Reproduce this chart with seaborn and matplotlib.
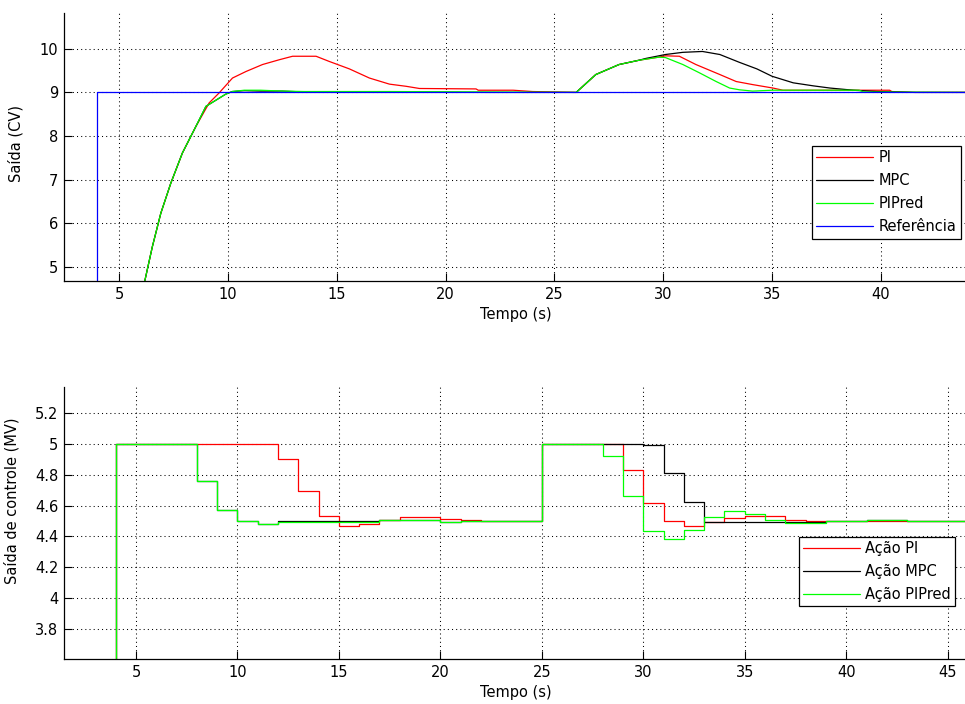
import matplotlib
matplotlib.use("Agg")
import matplotlib.pyplot as plt
import seaborn as sns

# Saída (CV) - curves
t_pi = [6.10, 6.19, 6.53, 6.92, 7.38, 7.91, 8.53, 9.14, 9.60, 10.21, 10.83, 11.59, 12.36,
        12.97, 14.05, 14.66, 15.58, 16.50, 17.42, 18.19, 18.80, 21.40, 21.50, 23.10, 24.00,
        26.00, 26.90, 27.97, 28.90, 29.80, 30.10, 30.74, 31.50, 32.60, 33.35, 34.10, 35.04,
        35.50, 40.40, 40.50, 41.50, 44.00]
y_pi = [4.45, 4.69, 5.46, 6.23, 6.92, 7.61, 8.22, 8.76, 8.99, 9.33, 9.48, 9.64, 9.75,
        9.83, 9.83, 9.71, 9.54, 9.33, 9.19, 9.14, 9.09, 9.08, 9.05, 9.05, 9.02,
        9.00, 9.41, 9.64, 9.74, 9.81, 9.84, 9.83, 9.64, 9.41, 9.25, 9.18, 9.10,
        9.05, 9.05, 9.02, 9.00, 9.00]

t_mpc = [6.10, 6.19, 6.53, 6.92, 7.38, 7.91, 8.53, 8.99, 9.90, 10.20, 10.75, 11.50, 12.50,
         13.50, 17.40, 22.00, 26.00, 26.90, 27.97, 28.90, 29.20, 30.10, 30.90, 31.80, 32.60,
         33.50, 34.30, 35.00, 35.97, 36.90, 37.66, 38.74, 39.80, 41.60, 44.00]
y_mpc = [4.45, 4.69, 5.46, 6.23, 6.92, 7.61, 8.22, 8.68, 8.96, 9.02, 9.04, 9.03, 9.03,
         9.01, 9.01, 9.00, 9.00, 9.41, 9.64, 9.74, 9.78, 9.87, 9.92, 9.94, 9.87,
         9.69, 9.54, 9.37, 9.22, 9.15, 9.10, 9.05, 9.02, 9.00, 9.00]

t_pipred = [6.10, 6.19, 6.53, 6.92, 7.38, 7.91, 8.53, 8.99, 9.90, 10.20, 10.75, 11.50, 12.50,
            13.50, 17.40, 22.00, 26.00, 26.90, 27.97, 28.90, 29.80, 30.10, 30.90, 31.66, 32.43,
            33.05, 33.50, 34.10, 35.00, 39.00, 39.20, 44.00]
y_pipred = [4.45, 4.69, 5.46, 6.23, 6.92, 7.61, 8.22, 8.68, 8.96, 9.02, 9.05, 9.05, 9.03,
            9.02, 9.02, 9.01, 9.00, 9.41, 9.64, 9.74, 9.81, 9.80, 9.64, 9.45, 9.25,
            9.10, 9.06, 9.03, 9.05, 9.05, 9.01, 9.00]

t_ref = [0, 4, 44]
y_ref = [0, 9, 9]

# Saída de controle (MV) - step signals
t_upi = [0, 4, 12, 13, 14, 15, 16, 17, 18, 20, 21, 22, 25, 29, 30, 31, 32, 33, 34, 35, 37, 38, 46]
u_pi = [0, 5.0, 4.906, 4.694, 4.533, 4.468, 4.479, 4.507, 4.526, 4.515, 4.507, 4.50, 5.0,
        4.833, 4.618, 4.50, 4.468, 4.492, 4.516, 4.529, 4.507, 4.50, 4.50]

t_umpc = [0, 4, 8, 9, 10, 11, 12, 14, 17, 18, 19, 20, 21, 25, 30, 31, 32, 33, 39, 41, 43, 46]
u_mpc = [0, 5.0, 4.757, 4.568, 4.50, 4.483, 4.497, 4.50, 4.507, 4.509, 4.505, 4.495, 4.50, 5.0,
         4.991, 4.811, 4.626, 4.490, 4.50, 4.505, 4.50, 4.50]

t_upipred = [0, 4, 8, 9, 10, 11, 12, 13, 17, 18, 19, 20, 21, 25, 28, 29, 30, 31, 32, 33, 34,
             35, 36, 37, 39, 41, 43, 46]
u_pipred = [0, 5.0, 4.757, 4.568, 4.50, 4.483, 4.492, 4.495, 4.507, 4.509, 4.503, 4.493, 4.50,
            5.0, 4.924, 4.659, 4.437, 4.381, 4.442, 4.525, 4.566, 4.548, 4.509, 4.486, 4.50,
            4.505, 4.50, 4.50]

sns.set_style("ticks")
plt.rcParams['font.family'] = ['DejaVu Sans']
plt.rcParams['font.size'] = 10.5
plt.rcParams['text.color'] = 'black'
plt.rcParams['axes.labelcolor'] = 'black'

fig = plt.figure(figsize=(9.65, 7.04), dpi=100)
ax1 = fig.add_axes([64 / 965, 1 - 281 / 704, 904 / 965, 268.3 / 704])
ax2 = fig.add_axes([64 / 965, 1 - 659.3 / 704, 904 / 965, 272.6 / 704])

lw = 0.9
sns.lineplot(x=t_pi, y=y_pi, color='#ff0000', lw=lw, estimator=None, sort=False, ax=ax1, label='PI')
sns.lineplot(x=t_mpc, y=y_mpc, color='black', lw=lw, estimator=None, sort=False, ax=ax1, label='MPC')
sns.lineplot(x=t_pipred, y=y_pipred, color='#00ff00', lw=lw, estimator=None, sort=False, ax=ax1, label='PIPred')
sns.lineplot(x=t_ref, y=y_ref, color='#0000ff', lw=lw, estimator=None, sort=False, ax=ax1,
             label='Referência', drawstyle='steps-post')

sns.lineplot(x=t_upi, y=u_pi, color='#ff0000', lw=lw, estimator=None, sort=False, ax=ax2,
             label='Ação PI', drawstyle='steps-post')
sns.lineplot(x=t_umpc, y=u_mpc, color='black', lw=lw, estimator=None, sort=False, ax=ax2,
             label='Ação MPC', drawstyle='steps-post')
sns.lineplot(x=t_upipred, y=u_pipred, color='#00ff00', lw=lw, estimator=None, sort=False, ax=ax2,
             label='Ação PIPred', drawstyle='steps-post')

ax1.set_xlim(2.47, 44.0)
ax1.set_ylim(4.67, 10.83)
ax1.set_xticks([5, 10, 15, 20, 25, 30, 35, 40])
ax1.set_yticks([5, 6, 7, 8, 9, 10])
ax1.set_xlabel('Tempo (s)')
ax1.set_ylabel('Saída (CV)')
ax1.yaxis.set_label_coords(-0.045, 0.514)

ax2.set_xlim(1.455, 46.0)
ax2.set_ylim(3.6, 5.373)
ax2.set_xticks([5, 10, 15, 20, 25, 30, 35, 40, 45])
ax2.set_yticks([3.8, 4.0, 4.2, 4.4, 4.6, 4.8, 5.0, 5.2])
ax2.set_yticklabels(['3.8', '4', '4.2', '4.4', '4.6', '4.8', '5', '5.2'])
ax2.set_xlabel('Tempo (s)')
ax2.set_ylabel('Saída de controle (MV)')
ax2.yaxis.set_label_coords(-0.049, 0.583)

for ax in (ax1, ax2):
    ax.grid(True, color='black', linestyle=(0, (1, 3)), linewidth=0.75)
    ax.set_axisbelow(True)
    ax.tick_params(direction='in', length=6, width=0.8, colors='black', pad=4)
    for side in ('top', 'right'):
        ax.spines[side].set_visible(False)
    for side in ('left', 'bottom'):
        ax.spines[side].set_linewidth(0.9)
        ax.spines[side].set_color('black')

leg_kw = dict(loc='upper left', bbox_transform=fig.transFigure, frameon=True, fancybox=False,
              edgecolor='black', framealpha=1, handlelength=3.9, handletextpad=0.35,
              labelspacing=0.55, borderpad=0.3, borderaxespad=0, labelcolor='black')
leg1 = ax1.legend(bbox_to_anchor=(812 / 965, 1 - 145.7 / 704), **leg_kw)
leg2 = ax2.legend(bbox_to_anchor=(799 / 965, 1 - 536.7 / 704), **leg_kw)
for leg in (leg1, leg2):
    leg.get_frame().set_linewidth(0.9)

fig.savefig('out.png', dpi=100)
